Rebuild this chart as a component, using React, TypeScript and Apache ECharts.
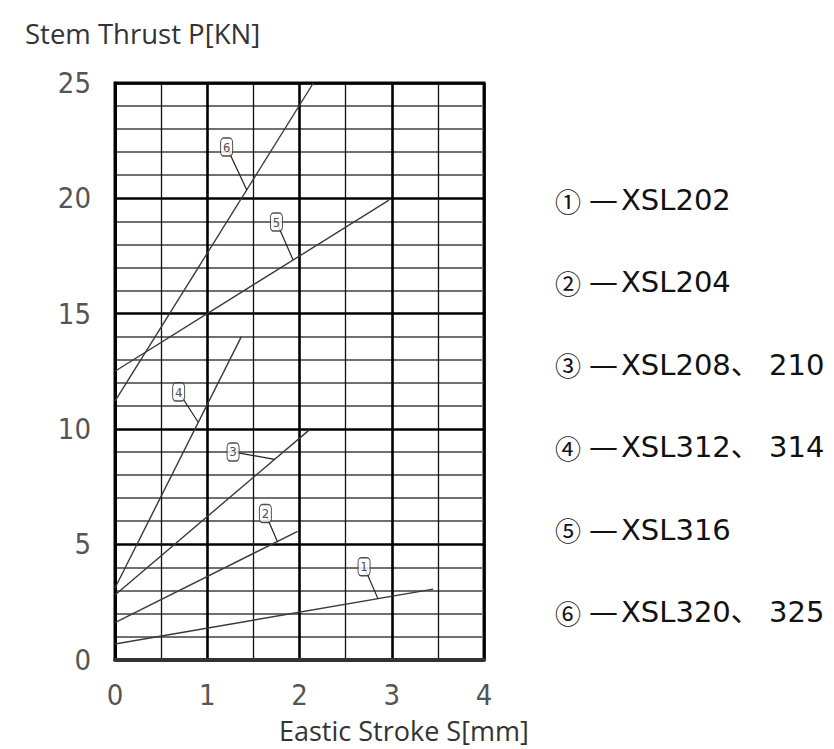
import React, { useEffect, useRef } from "react";
import * as echarts from "echarts";

// Axis ranges / ticks
const xTicks = [0, 1, 2, 3, 4];
const yTicks = [0, 5, 10, 15, 20, 25];

// Curves: start and end points [stroke mm, thrust kN]
const curve1 = [[0, 0.67], [3.45, 3.05]];
const curve2 = [[0, 1.6], [1.98, 5.56]];
const curve3 = [[0, 2.8], [2.11, 9.97]];
const curve4 = [[0, 3.1], [1.37, 14.0]];
const curve5 = [[0, 12.5], [2.97, 19.92]];
const curve6 = [[0, 11.2], [2.15, 25.0]];
const curves = [curve1, curve2, curve3, curve4, curve5, curve6];

// Callout labels: label centre and the point where the leader meets the curve
const calloutNames = ["1", "2", "3", "4", "5", "6"];
const calloutLabelPts = [[2.7, 4.02], [1.63, 6.33], [1.28, 9.0], [0.69, 11.6], [1.75, 18.97], [1.21, 22.22]];
const calloutCurvePts = [[2.85, 2.64], [1.76, 5.12], [1.73, 8.68], [0.9, 10.3], [1.93, 17.33], [1.43, 20.35]];

// Right-hand key
const keyMarks = ["①", "②", "③", "④", "⑤", "⑥"];
const keyModels = ["XSL202", "XSL204", "XSL208、 210", "XSL312、 314", "XSL316", "XSL320、 325"];

const yName = "Stem Thrust P[KN]";
const xName = "Eastic Stroke S[mm]";

const tickFont = "'Liberation Sans Narrow', 'DejaVu Sans Condensed', 'Roboto Condensed', Roboto, sans-serif";

export default function App() {
  const ref = useRef<HTMLDivElement>(null);
  useEffect(() => {
    if (!ref.current) return;
    const chart = echarts.init(ref.current, null, { renderer: "svg" });
    const curveSeries = curves.map((c) => ({
      type: "line",
      data: c,
      symbol: "none",
      lineStyle: { color: "#3a3a3a", width: 1.4 },
      z: 3,
      silent: true,
    }));
    const leaderSeries = calloutLabelPts.map((p, i) => ({
      type: "line",
      data: [p, calloutCurvePts[i]],
      symbol: "none",
      lineStyle: { color: "#222", width: 1.2 },
      z: 4,
      silent: true,
    }));
    const labelSeries = {
      type: "scatter",
      data: calloutLabelPts.map((p, i) => ({ value: p, name: calloutNames[i] })),
      symbol: "roundRect",
      symbolSize: [12, 18],
      itemStyle: { color: "#fff", borderColor: "#222", borderWidth: 1.2 },
      label: {
        show: true,
        position: "inside",
        formatter: (p: any) => p.name,
        color: "#222",
        fontSize: 13,
        fontFamily: tickFont,
      },
      z: 5,
      silent: true,
    };
    const keyGraphics = keyModels.map((t, i) => ({
      type: "text",
      x: 555,
      y: 200 + i * 82.4,
      style: {
        text: "{c|" + keyMarks[i] + "}{d|—}{t|" + t + "}",
        textVerticalAlign: "middle",
        verticalAlign: "middle",
        rich: {
          c: { fontSize: 26, fontFamily: "'Noto Sans CJK SC'", fill: "#111", color: "#111" },
          d: { fontSize: 29, fontFamily: "'DejaVu Sans'", fill: "#111", color: "#111", padding: [0, 3, 0, 8] },
          t: { fontSize: 29, fontFamily: "'DejaVu Sans', 'Noto Sans CJK SC'", fill: "#111", color: "#111" },
        },
      },
    }));
    chart.setOption({
      animation: false,
      backgroundColor: "#fff",
      title: [
        {
          text: yName,
          left: 20,
          top: 14,
          textStyle: { fontFamily: "'Open Sans'", fontSize: 27.5, fontWeight: "normal", color: "#333" },
        },
        {
          text: xName,
          left: 274,
          top: 712,
          textStyle: { fontFamily: "'Open Sans'", fontSize: 27, fontWeight: "normal", color: "#333" },
        },
      ],
      grid: {
        left: 115,
        top: 83,
        width: 369,
        height: 576.5,
        show: true,
        borderColor: "#111",
        borderWidth: 3,
        backgroundColor: "transparent",
      },
      xAxis: {
        type: "value",
        min: xTicks[0],
        max: xTicks[xTicks.length - 1],
        interval: 1,
        axisLine: { show: true, lineStyle: { color: "#333", width: 4 } },
        axisTick: { show: false },
        minorTick: { show: false, splitNumber: 2 },
        axisLabel: {
          margin: 21,
          fontFamily: tickFont,
          fontSize: 29,
          fontWeight: 300,
          color: "#555",
        },
        splitLine: { show: true, lineStyle: { color: "#000", width: 2.6 } },
        minorSplitLine: { show: true, lineStyle: { color: "#111", width: 1.3 } },
      },
      yAxis: {
        type: "value",
        min: yTicks[0],
        max: yTicks[yTicks.length - 1],
        interval: 5,
        axisLine: { show: true, lineStyle: { color: "#000", width: 3 } },
        axisTick: { show: false },
        minorTick: { show: false, splitNumber: 5 },
        axisLabel: {
          margin: 24,
          fontFamily: tickFont,
          fontSize: 29,
          fontWeight: 300,
          color: "#555",
        },
        splitLine: { show: true, lineStyle: { color: "#000", width: 2.6 } },
        minorSplitLine: { show: true, lineStyle: { color: "#707070", width: 2 } },
      },
      series: [...curveSeries, ...leaderSeries, labelSeries],
      graphic: keyGraphics,
    });
    return () => chart.dispose();
  }, []);
  return (
    <div
      ref={ref}
      style={{ position: "absolute", left: 0, top: 0, width: 834, height: 749 }}
    />
  );
}
